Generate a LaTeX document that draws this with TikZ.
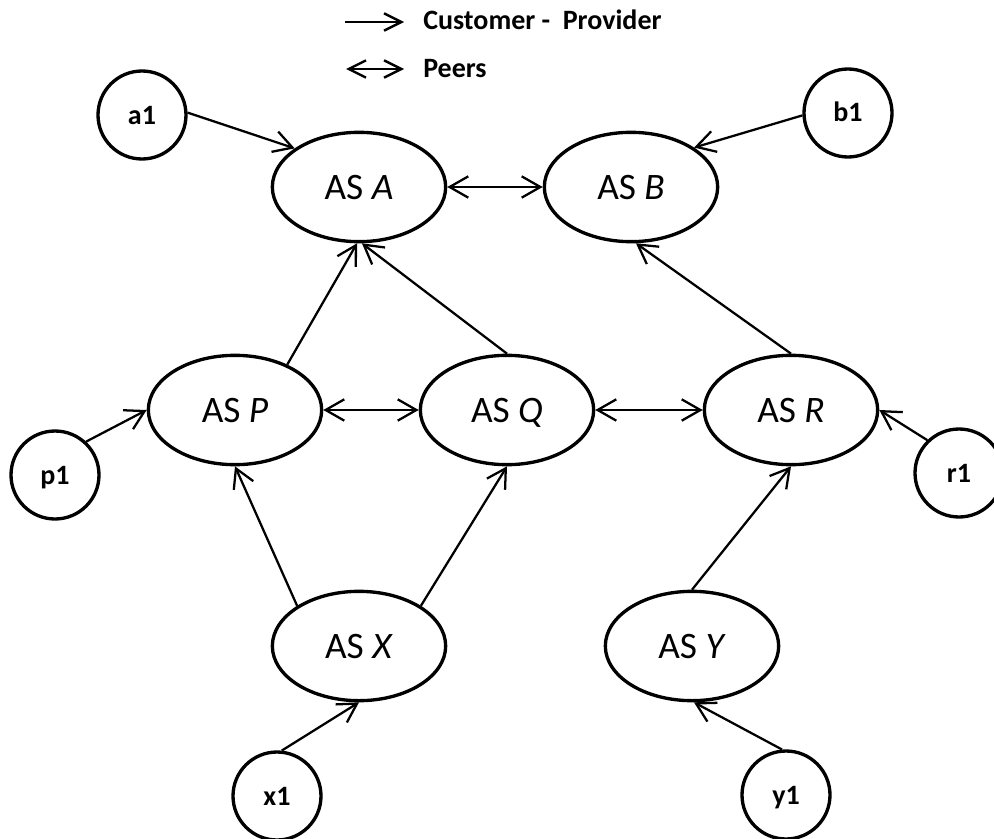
\documentclass[tikz,border=0pt]{standalone}
\usepackage{fontspec}
\setmainfont{Carlito}
\usetikzlibrary{shapes.geometric,arrows.meta}
\tikzset{
  asnode/.style={draw,ellipse,line width=2.5pt,minimum width=130pt,minimum height=82pt,inner sep=0pt,text height=18pt,text depth=0pt,font=\fontsize{28}{32}\selectfont},
  leaf/.style={draw,circle,line width=2.5pt,minimum size=66pt,inner sep=0pt,text height=13.5pt,text depth=0pt,font=\bfseries\fontsize{21}{25}\selectfont},
  cp/.style={line width=1.7pt,-{Straight Barb[length=14pt,width=16pt,line width=1.7pt]}},
  peer/.style={line width=1.7pt,{Straight Barb[length=14pt,width=16pt,line width=1.7pt]}-{Straight Barb[length=14pt,width=16pt,line width=1.7pt]}},
  lcp/.style={line width=1.8pt,-{Straight Barb[length=13pt,width=13pt,line width=1.8pt]}},
  lpeer/.style={line width=1.8pt,{Straight Barb[length=13pt,width=13pt,line width=1.8pt]}-{Straight Barb[length=13pt,width=13pt,line width=1.8pt]}},
  legtext/.style={anchor=base west,inner sep=0pt,font=\bfseries\fontsize{21}{25}\selectfont}
}
\begin{document}
\begin{tikzpicture}[x=0.75pt,y=-0.75pt]
\useasboundingbox (0,0) rectangle (994,838);
% legend
\coordinate (l1s) at (345,22);
\coordinate (l1e) at (404,22);
\coordinate (l2s) at (346,69);
\coordinate (l2e) at (404,69);
\draw[lcp] (l1s) -- (l1e);
\draw[lpeer] (l2s) -- (l2e);
\node[legtext] (lt1) at (423,30) {Customer - \ Provider};
\node[legtext] (lt2) at (423,78) {Peers};
% AS nodes
\node[asnode] (A) at (359,187) {AS \textit{A}};
\node[asnode] (B) at (631,187) {AS \textit{B}};
\node[asnode] (P) at (235,410) {AS \textit{P}};
\node[asnode] (Q) at (507,410) {AS \textit{Q}};
\node[asnode] (R) at (791,410) {AS \textit{R}};
\node[asnode] (X) at (359,646) {AS \textit{X}};
\node[asnode] (Y) at (692,646) {AS \textit{Y}};
% leaf nodes
\node[leaf] (a1) at (142,115) {a1};
\node[leaf] (b1) at (848,113) {b1};
\node[leaf] (p1) at (55,475) {p1};
\node[leaf] (r1) at (959,473) {r1};
\node[leaf] (x1) at (277,796) {x1};
\node[leaf] (y1) at (786,795) {y1};
% customer-provider edges
\draw[cp] (a1.3) -- (A.149);
\draw[cp] (b1.183) -- (B.32);
\draw[cp] (P.41) -- (A.268);
\draw[cp] (Q.90) -- (A.273);
\draw[cp] (R.90) -- (B.275);
\draw[cp] (p1.47) -- (P.180);
\draw[cp] (r1.134) -- (R.0);
\draw[cp] (X.147) -- (P.270);
\draw[cp] (X.33) -- (Q.270);
\draw[cp] (Y.90) -- (R.270);
\draw[cp] (x1.84) -- (X.270);
\draw[cp] (y1.95) -- (Y.272);
% peer edges
\draw[peer] (A.0) -- (B.180);
\draw[peer] (P.0) -- (Q.180);
\draw[peer] (Q.0) -- (R.180);
\end{tikzpicture}
\end{document}
